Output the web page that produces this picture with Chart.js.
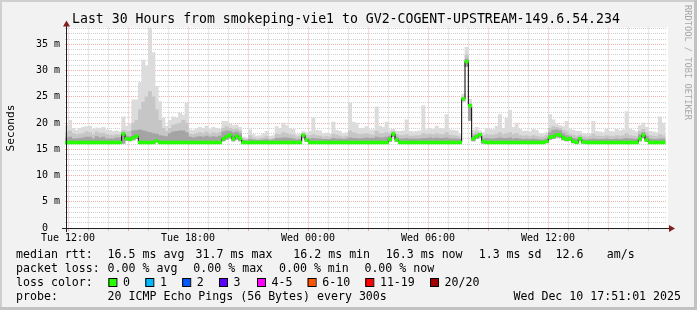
<!DOCTYPE html>
<html>
<head>
<meta charset="utf-8">
<script src="https://cdn.jsdelivr.net/npm/chart.js@4/dist/chart.umd.min.js"></script>
<style>
  html, body { margin: 0; padding: 0; background: #f2f2f2; }
  canvas { display: block; }
</style>
</head>
<body>
<canvas id="graph" width="697" height="310"></canvas>
<script>
/* global Chart */
// 180 steps of 10 minutes, Tue 11:51 -> Wed 17:51 (ms)
const STEP_MIN = 10;

const smokeMax = [
  19.5, 20.5, 19.0, 18.6, 19.0, 19.2, 19.3, 19.4, 18.8, 19.1, 19.0, 19.2, 18.7, 18.6, 18.4, 18.5, 18.3, 21.2,
  19.4, 19.8, 24.4, 24.4, 27.7, 32.0, 30.8, 38.2, 33.4, 27.0, 24.1, 21.0, 19.4, 20.5, 21.2, 21.0, 21.9, 21.5,
  23.8, 18.7, 18.6, 18.9, 19.2, 19.0, 19.4, 18.8, 19.2, 19.0, 18.8, 20.3, 20.3, 19.8, 19.5, 19.6, 19.2, 17.3,
  17.2, 18.7, 17.8, 17.5, 17.6, 17.9, 18.4, 17.5, 17.6, 19.3, 19.0, 20.0, 19.5, 19.0, 18.8, 17.8, 17.9, 18.4,
  18.2, 18.4, 21.0, 18.6, 18.5, 18.0, 18.1, 17.9, 20.2, 18.6, 18.4, 18.0, 18.2, 23.8, 20.2, 20.0, 19.0, 19.0,
  19.3, 18.7, 18.7, 23.1, 19.4, 19.2, 20.2, 18.7, 18.8, 18.4, 18.4, 18.5, 20.6, 18.4, 18.3, 18.4, 18.5, 23.3,
  18.7, 19.0, 18.8, 19.4, 19.0, 18.9, 21.6, 18.7, 18.6, 18.5, 17.9, 25.5, 34.4, 24.5, 18.6, 19.2, 18.5, 18.2,
  19.0, 18.8, 18.7, 19.4, 21.6, 19.0, 20.9, 22.4, 19.2, 20.0, 18.8, 18.4, 18.5, 18.3, 18.8, 18.6, 18.0, 17.9,
  18.2, 21.6, 20.6, 19.8, 19.5, 19.3, 20.3, 18.8, 18.6, 18.4, 18.4, 18.0, 17.9, 18.0, 20.3, 18.4, 18.3, 18.2,
  18.8, 18.4, 18.3, 18.8, 18.5, 18.7, 22.2, 18.8, 18.6, 18.3, 19.5, 20.0, 19.2, 18.4, 18.3, 18.2, 21.2, 20.0,
];

const smokeMid = [
  18.2, 18.5, 18.0, 17.8, 17.9, 18.0, 18.3, 18.2, 17.8, 18.3, 18.0, 18.1, 17.8, 17.7, 17.6, 17.8, 17.7, 18.6,
  18.3, 18.4, 20.0, 20.5, 22.5, 24.0, 25.0, 26.0, 25.0, 22.5, 20.5, 19.0, 18.4, 19.0, 19.6, 19.8, 20.0, 20.5,
  20.0, 17.9, 17.8, 18.0, 18.2, 18.0, 18.3, 17.9, 18.2, 18.0, 18.2, 19.0, 19.3, 19.0, 18.8, 18.9, 18.5, 17.0,
  16.9, 17.6, 17.2, 17.0, 17.1, 17.2, 17.4, 17.0, 17.1, 17.9, 17.8, 18.2, 18.0, 17.8, 17.7, 17.3, 17.4, 18.0,
  17.6, 17.6, 17.8, 17.6, 17.5, 17.3, 17.4, 17.3, 17.9, 17.7, 17.5, 17.3, 17.5, 18.5, 18.2, 18.0, 17.8, 17.9,
  18.0, 17.8, 17.7, 18.4, 18.0, 18.0, 18.2, 18.0, 18.4, 17.9, 17.6, 17.6, 17.8, 17.5, 17.5, 17.6, 17.6, 18.0,
  17.8, 17.9, 17.8, 18.0, 17.8, 17.8, 18.2, 17.7, 17.6, 17.5, 17.3, 25.0, 33.0, 23.8, 18.0, 18.3, 18.1, 17.5,
  17.8, 17.7, 17.7, 17.9, 18.2, 17.8, 18.0, 18.2, 17.8, 18.0, 17.6, 17.5, 17.6, 17.4, 17.6, 17.5, 17.3, 17.3,
  17.6, 19.0, 19.3, 19.2, 19.0, 18.6, 18.3, 17.9, 17.7, 17.5, 17.7, 17.4, 17.3, 17.4, 17.9, 17.5, 17.5, 17.4,
  17.6, 17.5, 17.4, 17.6, 17.5, 17.6, 18.0, 17.6, 17.5, 17.4, 18.4, 18.8, 18.2, 17.6, 17.5, 17.4, 17.8, 17.6,
];

const smokeDark = [
  17.2, 17.3, 17.0, 17.0, 17.1, 17.2, 17.3, 17.3, 17.0, 17.4, 17.2, 17.3, 17.0, 17.0, 17.0, 17.2, 17.2, 17.9,
  17.5, 17.4, 18.5, 18.6, 18.7, 18.5, 18.3, 18.2, 18.0, 17.9, 17.6, 17.5, 17.4, 18.0, 18.3, 18.4, 18.5, 18.5,
  18.2, 17.3, 17.2, 17.3, 17.4, 17.3, 17.5, 17.3, 17.4, 17.3, 17.5, 18.3, 18.5, 18.4, 18.2, 18.3, 18.0, 16.7,
  16.6, 16.9, 16.8, 16.7, 16.7, 16.8, 16.9, 16.7, 16.8, 17.1, 17.1, 17.2, 17.2, 17.1, 17.0, 16.8, 16.9, 17.6,
  17.0, 17.0, 17.1, 17.0, 17.0, 16.9, 16.9, 16.9, 17.1, 17.0, 17.0, 16.9, 17.0, 17.2, 17.1, 17.1, 17.0, 17.1,
  17.2, 17.1, 17.1, 17.3, 17.2, 17.2, 17.3, 17.5, 18.0, 17.3, 17.0, 17.0, 17.1, 17.0, 17.0, 17.0, 17.0, 17.1,
  17.1, 17.2, 17.1, 17.2, 17.1, 17.1, 17.2, 17.0, 17.0, 17.0, 16.9, 24.8, 32.2, 23.5, 17.5, 17.8, 17.9, 17.0,
  17.1, 17.0, 17.0, 17.1, 17.2, 17.1, 17.1, 17.2, 17.0, 17.1, 17.0, 16.9, 17.0, 16.9, 17.0, 16.9, 16.8, 16.8,
  17.0, 18.2, 18.6, 18.7, 18.5, 18.0, 17.6, 17.4, 17.1, 17.0, 17.3, 16.9, 16.8, 16.9, 17.0, 16.9, 16.9, 16.9,
  17.0, 16.9, 16.9, 17.0, 16.9, 17.0, 17.1, 17.0, 17.0, 16.9, 17.8, 18.2, 17.5, 17.0, 16.9, 16.9, 17.0, 17.0,
];

const pingMin = [
  16.1, 16.1, 16.1, 16.1, 16.1, 16.1, 16.1, 16.1, 16.1, 16.1, 16.1, 16.1, 16.1, 16.1, 16.1, 16.1, 16.1, 16.1,
  16.7, 16.6, 16.8, 17.0, 16.1, 16.1, 16.1, 16.1, 16.1, 16.4, 16.1, 16.1, 16.1, 16.1, 16.1, 16.1, 16.1, 16.1,
  16.1, 16.1, 16.1, 16.1, 16.1, 16.1, 16.1, 16.1, 16.1, 16.1, 16.1, 16.6, 16.9, 17.1, 16.6, 16.9, 16.6, 16.1,
  16.1, 16.1, 16.1, 16.1, 16.1, 16.1, 16.1, 16.1, 16.1, 16.1, 16.1, 16.1, 16.1, 16.1, 16.1, 16.1, 16.1, 17.2,
  16.5, 16.1, 16.1, 16.1, 16.1, 16.1, 16.1, 16.1, 16.1, 16.1, 16.1, 16.1, 16.1, 16.1, 16.1, 16.1, 16.1, 16.1,
  16.1, 16.1, 16.1, 16.1, 16.1, 16.1, 16.1, 16.5, 17.4, 16.5, 16.1, 16.1, 16.1, 16.1, 16.1, 16.1, 16.1, 16.1,
  16.1, 16.1, 16.1, 16.1, 16.1, 16.1, 16.1, 16.1, 16.1, 16.1, 16.1, 24.2, 30.8, 20.5, 16.6, 17.0, 17.3, 16.1,
  16.1, 16.1, 16.1, 16.1, 16.1, 16.1, 16.1, 16.1, 16.1, 16.1, 16.1, 16.1, 16.1, 16.1, 16.1, 16.1, 16.1, 16.1,
  16.2, 16.9, 17.0, 17.3, 17.2, 16.8, 16.6, 16.7, 16.2, 16.1, 16.6, 16.1, 16.1, 16.1, 16.1, 16.1, 16.1, 16.1,
  16.1, 16.1, 16.1, 16.1, 16.1, 16.1, 16.1, 16.1, 16.1, 16.1, 16.6, 17.2, 16.5, 16.1, 16.1, 16.1, 16.1, 16.1,
];

const medianRtt = [
  16.3, 16.3, 16.3, 16.3, 16.3, 16.3, 16.3, 16.3, 16.3, 16.3, 16.3, 16.3, 16.3, 16.3, 16.3, 16.3, 16.3, 17.9,
  17.0, 16.9, 17.2, 17.5, 16.3, 16.3, 16.3, 16.3, 16.3, 16.6, 16.3, 16.3, 16.3, 16.3, 16.3, 16.3, 16.3, 16.3,
  16.3, 16.3, 16.3, 16.3, 16.3, 16.3, 16.3, 16.3, 16.3, 16.3, 16.3, 17.0, 17.4, 17.7, 17.0, 17.5, 17.1, 16.3,
  16.3, 16.3, 16.3, 16.3, 16.3, 16.3, 16.3, 16.3, 16.3, 16.3, 16.3, 16.3, 16.3, 16.3, 16.3, 16.3, 16.3, 17.7,
  16.8, 16.3, 16.3, 16.3, 16.3, 16.3, 16.3, 16.3, 16.3, 16.3, 16.3, 16.3, 16.3, 16.3, 16.3, 16.3, 16.3, 16.3,
  16.3, 16.3, 16.3, 16.3, 16.3, 16.3, 16.3, 16.9, 17.9, 16.8, 16.3, 16.3, 16.3, 16.3, 16.3, 16.3, 16.3, 16.3,
  16.3, 16.3, 16.3, 16.3, 16.3, 16.3, 16.3, 16.3, 16.3, 16.3, 16.3, 24.6, 31.7, 23.3, 17.0, 17.4, 17.8, 16.5,
  16.3, 16.3, 16.3, 16.3, 16.3, 16.3, 16.3, 16.3, 16.3, 16.3, 16.3, 16.3, 16.3, 16.3, 16.3, 16.3, 16.3, 16.3,
  16.5, 17.3, 17.4, 17.8, 17.7, 17.2, 16.9, 17.0, 16.5, 16.3, 17.0, 16.4, 16.3, 16.3, 16.3, 16.3, 16.3, 16.3,
  16.3, 16.3, 16.3, 16.3, 16.3, 16.3, 16.3, 16.3, 16.3, 16.3, 17.0, 17.7, 16.8, 16.3, 16.3, 16.3, 16.3, 16.3,
];

// minutes after Tue 11:51 where the time labels sit
const xLabelMinutes = [9, 369, 729, 1089, 1449];
const xTickLabels = ["Tue 12:00", "Tue 18:00", "Wed 00:00", "Wed 06:00", "Wed 12:00"];
const yTickLabels = ["0  ", "5 m", "10 m", "15 m", "20 m", "25 m", "30 m", "35 m"];

const title = "Last 30 Hours from smokeping-vie1 to GV2-COGENT-UPSTREAM-149.6.54.234";

const rttRow = [
  [16, "median rtt:"], [107.6, "16.5 ms avg"], [195.6, "31.7 ms max"], [293.3, "16.2 ms min"],
  [385.8, "16.3 ms now"], [478.7, "1.3 ms sd"], [555.6, "12.6"], [606.7, "am/s"],
];
const lossRow = [
  [16, "packet loss:"], [107.6, "0.00 % avg"], [193.3, "0.00 % max"], [279, "0.00 % min"], [364.4, "0.00 % now"],
];
const lossColors = [
  [108.4, "0", "#26ff00"], [145.3, "1", "#00b8ff"], [182.2, "2", "#0059ff"], [219, "3", "#5e00ff"],
  [257, "4-5", "#ff00ff"], [307.6, "6-10", "#ff5500"], [365.3, "11-19", "#ff0000"], [430, "20/20", "#a10000"],
];
const probeText = "20 ICMP Echo Pings (56 Bytes) every 300s";
const stampText = "Wed Dec 10 17:51:01 2025";

const MONO = '"DejaVu Sans Mono", monospace';
const GRID = "rgba(143, 143, 143, 0.42)";
const MGRID = "rgba(222, 79, 79, 0.45)";
const MEDIAN_BAND = 0.26;

const stepX = (i) => i * STEP_MIN + STEP_MIN / 2;
const band = (lo, hi) => lo.map((v, i) => ({ x: stepX(i), y: [v, hi[i]] }));

const hourTicks = [];
for (let m = 9; m < 1806; m += 60) hourTicks.push(m);

const rrdFrame = {
  id: "rrdFrame",
  beforeDraw(chart) {
    const { ctx, chartArea: a } = chart;
    ctx.save();
    ctx.fillStyle = "#f2f2f2";
    ctx.fillRect(0, 0, 697, 310);
    ctx.fillStyle = "#cfcfcf";
    ctx.fillRect(0, 0, 697, 2);
    ctx.fillRect(0, 0, 2, 310);
    ctx.fillStyle = "#c2c2c2";
    ctx.fillRect(694, 0, 3, 310);
    ctx.fillRect(0, 307, 697, 3);
    ctx.fillStyle = "#ffffff";
    ctx.fillRect(a.left, a.top, a.right - a.left + 1, a.bottom - a.top);
    ctx.restore();
  },
  afterDraw(chart) {
    const { ctx, chartArea: a } = chart;
    ctx.save();

    // axes with arrows
    ctx.strokeStyle = "#1f1f1f";
    ctx.lineWidth = 1;
    ctx.beginPath();
    ctx.moveTo(62, a.bottom + 0.5);
    ctx.lineTo(a.right + 2, a.bottom + 0.5);
    ctx.moveTo(66.5, a.bottom + 4);
    ctx.lineTo(66.5, 25);
    ctx.stroke();
    ctx.fillStyle = "#801f1f";
    ctx.beginPath();
    ctx.moveTo(a.right + 2, a.bottom - 3);
    ctx.lineTo(a.right + 8, a.bottom + 0.5);
    ctx.lineTo(a.right + 2, a.bottom + 4);
    ctx.closePath();
    ctx.fill();
    ctx.beginPath();
    ctx.moveTo(63, 26.5);
    ctx.lineTo(66.5, 20.5);
    ctx.lineTo(70, 26.5);
    ctx.closePath();
    ctx.fill();

    ctx.fillStyle = "#000";
    ctx.textAlign = "left";
    ctx.textBaseline = "alphabetic";
    ctx.font = `13.2px ${MONO}`;
    ctx.fillText(title, 72, 23);

    ctx.save();
    ctx.translate(11, 128);
    ctx.rotate(-Math.PI / 2);
    ctx.textAlign = "center";
    ctx.textBaseline = "middle";
    ctx.font = `11.2px ${MONO}`;
    ctx.fillText("Seconds", 0, 0);
    ctx.restore();

    ctx.save();
    ctx.translate(687, 5);
    ctx.rotate(Math.PI / 2);
    ctx.textAlign = "left";
    ctx.textBaseline = "middle";
    ctx.font = `8.7px ${MONO}`;
    ctx.fillStyle = "#a8a8a8";
    ctx.fillText("RRDTOOL / TOBI OETIKER", 0, 0);
    ctx.restore();

    ctx.font = `11.6px ${MONO}`;
    ctx.textBaseline = "middle";
    ctx.fillStyle = "#000";
    for (const [x, t] of rttRow) ctx.fillText(t, x, 254.5);
    for (const [x, t] of lossRow) ctx.fillText(t, x, 268.5);
    ctx.fillText("loss color:", 16, 282.5);
    for (const [x, t, c] of lossColors) {
      ctx.fillStyle = c;
      ctx.fillRect(x, 278.5, 8, 8);
      ctx.strokeStyle = "#000";
      ctx.strokeRect(x + 0.5, 278.5, 8, 8);
      ctx.fillStyle = "#000";
      ctx.fillText(t, x + 14.6, 282.5);
    }
    ctx.fillText("probe:", 16, 296.5);
    ctx.fillText(probeText, 107.6, 296.5);
    ctx.textAlign = "right";
    ctx.fillText(stampText, 681, 296.5);
    ctx.restore();
  },
};

const smokeBar = {
  type: "bar",
  grouped: false,
  barPercentage: 1,
  categoryPercentage: 1,
  borderWidth: 0,
};

// eslint-disable-next-line no-new
new Chart(document.getElementById("graph"), {
  type: "bar",
  plugins: [rrdFrame],
  data: {
    datasets: [
      { ...smokeBar, label: "loss 0", data: medianRtt.map((m, i) => ({ x: stepX(i), y: [m - MEDIAN_BAND, m + MEDIAN_BAND] })), backgroundColor: "#26ff00", order: 0 },
      { type: "line", label: "median rtt", data: medianRtt.map((m, i) => ({ x: stepX(i), y: m })), stepped: "middle", borderColor: "#000", borderWidth: 1, pointRadius: 0, order: 1 },
      { ...smokeBar, label: "smoke dark", data: band(pingMin, smokeDark), backgroundColor: "#a4a4a4", order: 2 },
      { ...smokeBar, label: "smoke mid", data: band(pingMin, smokeMid), backgroundColor: "#c6c6c6", order: 3 },
      { ...smokeBar, label: "smoke", data: band(pingMin, smokeMax), backgroundColor: "#dcdcdc", order: 4 },
    ],
  },
  options: {
    responsive: false,
    animation: false,
    devicePixelRatio: 1,
    events: [],
    layout: { padding: { top: 27.5, right: 30, bottom: 0, left: 0 } },
    plugins: {
      legend: { display: false },
      tooltip: { enabled: false },
    },
    scales: {
      x: {
        type: "linear",
        min: 0,
        max: 1806,
        offset: false,
        afterBuildTicks: (s) => { s.ticks = hourTicks.map((v) => ({ value: v })); },
        afterFit: (s) => { s.height = 82; },
        ticks: {
          autoSkip: false,
          maxRotation: 0,
          minRotation: 0,
          padding: 1,
          color: "#000",
          font: { family: MONO, size: 10 },
          callback: (v) => {
            const k = xLabelMinutes.indexOf(v);
            return k >= 0 ? xTickLabels[k] : "";
          },
        },
        grid: {
          offset: false,
          color: (c) => ((c.tick.value - 9) % 180 === 0 ? MGRID : GRID),
          tickLength: 3,
        },
        border: { display: false, dash: [1, 1] },
      },
      y: {
        min: 0,
        max: 38.2,
        afterBuildTicks: (s) => {
          const t = [];
          for (let v = 0; v <= 38; v++) t.push({ value: v });
          s.ticks = t;
        },
        afterFit: (s) => { s.width = 65; },
        ticks: {
          autoSkip: false,
          padding: 5,
          color: "#000",
          font: { family: MONO, size: 10 },
          callback: (v) => (v % 5 === 0 ? yTickLabels[v / 5] : ""),
        },
        grid: {
          color: (c) => (c.tick.value % 5 === 0 ? MGRID : GRID),
          drawTicks: false,
        },
        border: { display: false, dash: [1, 1] },
      },
    },
  },
});
</script>
</body>
</html>
